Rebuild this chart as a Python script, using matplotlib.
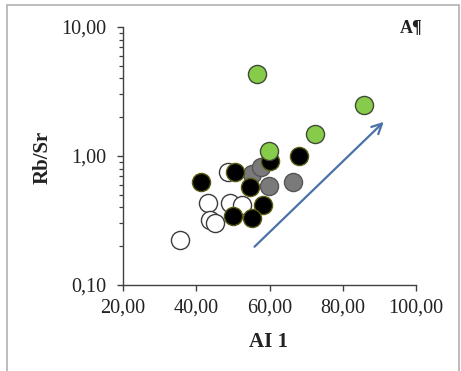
import matplotlib.pyplot as plt
from matplotlib.ticker import FixedLocator, FuncFormatter, LogLocator, NullFormatter
from matplotlib.patches import Rectangle

plt.rcParams['font.family'] = ['Liberation Serif', 'DejaVu Serif']

# AI 1 vs Rb/Sr by group
white_x = [48.7, 43.1, 49.3, 52.4, 43.8, 45.2, 35.6]
white_y = [0.755, 0.43, 0.436, 0.42, 0.32, 0.304, 0.223]

gray_x = [55.3, 57.8, 59.9, 66.5]
gray_y = [0.724, 0.82, 0.59, 0.63]

black_x = [41.4, 50.7, 54.6, 60.2, 68.1, 58.3, 49.9, 55.1]
black_y = [0.63, 0.755, 0.578, 0.91, 1.0, 0.417, 0.343, 0.33]

green_x = [56.7, 85.8, 72.5, 59.9]
green_y = [4.36, 2.47, 1.49, 1.09]

# trend arrow
arrow_start = (55.9, 0.198)
arrow_end = (91.2, 1.84)

fig = plt.figure(figsize=(4.61, 3.71), dpi=100)
ax = fig.add_axes([0.2668, 0.2318, 0.6356, 0.6954])

ms = 170
ax.scatter(white_x, white_y, s=ms, c='white', edgecolors='#3c3c3c', linewidths=1.0, zorder=3)
ax.scatter(gray_x, gray_y, s=ms, c='#7a7a7a', edgecolors='#555555', linewidths=1.0, zorder=4)
ax.scatter(black_x, black_y, s=ms, c='black', edgecolors='#5a5a10', linewidths=1.0, zorder=5)
ax.scatter(green_x, green_y, s=ms, c='#86cc4a', edgecolors='#3f4a35', linewidths=1.0, zorder=6)

ax.annotate('', xy=arrow_end, xytext=arrow_start,
            arrowprops=dict(arrowstyle='->', color='#4a72a8', lw=1.6,
                            mutation_scale=18, shrinkA=0, shrinkB=0), zorder=7)

ax.set_yscale('log')
ax.set_xlim(20, 100)
ax.set_ylim(0.1, 10)

ax.xaxis.set_major_locator(FixedLocator([20, 40, 60, 80, 100]))
ax.xaxis.set_major_formatter(FuncFormatter(lambda v, p: f'{v:.2f}'.replace('.', ',')))
ax.yaxis.set_major_locator(FixedLocator([0.1, 1, 10]))
ax.yaxis.set_major_formatter(FuncFormatter(lambda v, p: f'{v:.2f}'.replace('.', ',')))
ax.yaxis.set_minor_locator(LogLocator(base=10, subs=range(2, 10)))
ax.yaxis.set_minor_formatter(NullFormatter())

for side in ['top', 'right']:
    ax.spines[side].set_visible(False)
for side in ['left', 'bottom']:
    ax.spines[side].set_color('#404040')
    ax.spines[side].set_linewidth(1.0)

ax.tick_params(axis='both', which='major', direction='out', length=4, width=1.0,
               color='#404040', labelsize=14.5, labelcolor='#222222')
ax.tick_params(axis='x', which='major', pad=6)
ax.tick_params(axis='y', which='major', pad=8)
ax.tick_params(axis='y', which='minor', direction='out', length=3, width=0.9, color='#404040')

fig.text(0.093, 0.577, 'Rb/Sr', rotation=90, ha='center', va='center',
         fontsize=15, fontweight='bold', color='#222222')
fig.text(0.583, 0.078, 'AI 1', ha='center', va='center',
         fontsize=15, fontweight='bold', color='#222222')
fig.text(0.893, 0.927, 'A¶', ha='center', va='center',
         fontsize=13, fontweight='bold', color='#222222')

# frame around the figure
fig.patches.append(Rectangle((7 / 461, -0.05), 452 / 461, 1.05 - 5 / 371,
                             transform=fig.transFigure, fill=False,
                             edgecolor='#b0b0b0', linewidth=1.2))

fig.savefig('out.png', dpi=100)
